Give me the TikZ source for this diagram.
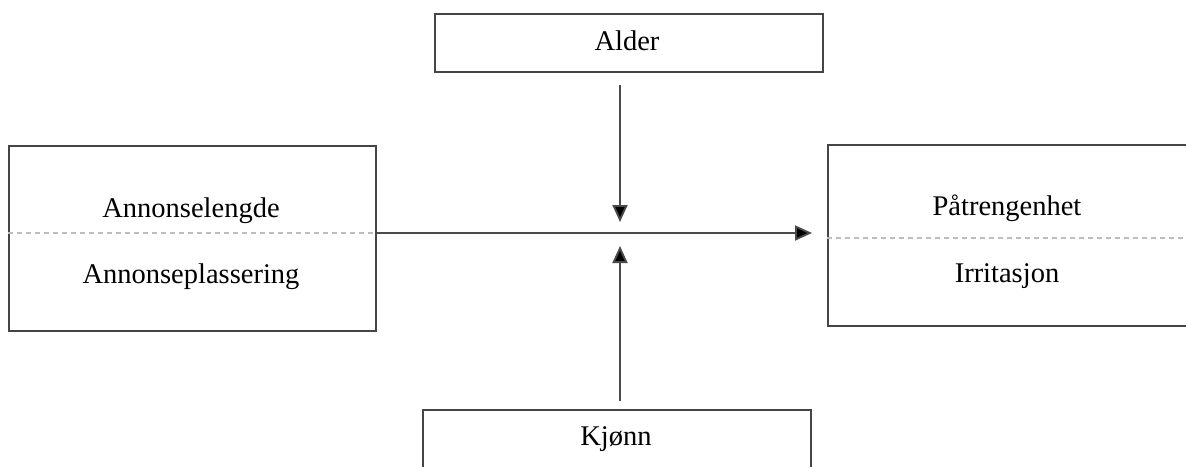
\documentclass[tikz,border=0pt]{standalone}
\usepackage{fontspec}
\setmainfont{Liberation Serif}
\usetikzlibrary{arrows.meta}
\definecolor{boxline}{HTML}{454545}
\definecolor{arrline}{HTML}{4A4A4A}
\definecolor{dashgray}{HTML}{BDBDBD}
\tikzset{
  varbox/.style={draw=boxline, line width=2pt, fill=white, inner sep=0pt},
  lbl/.style={font=\fontsize{28.5}{34}\selectfont, anchor=base, inner sep=0pt},
  sep/.style={draw=dashgray, line width=1.5pt, dash pattern=on 5pt off 4pt},
  conn/.style={draw=arrline, line width=1.9pt, -{Triangle[length=17pt,width=15pt,fill=black]}},
}
\begin{document}
\begin{tikzpicture}[x=1pt,y=-1pt]
\clip (0,0) rectangle (1186,466);
\fill[white] (0,0) rectangle (1186,466);
% boxes
\node[varbox, minimum width=367pt, minimum height=185pt] (lbox) at (192.5,238.5) {};
\node[varbox, minimum width=362pt, minimum height=181pt] (rbox) at (1009,235.5) {};
\node[varbox, minimum width=388pt, minimum height=58pt] (abox) at (629,43) {};
\node[varbox, minimum width=388pt, minimum height=80pt] (kbox) at (617,450) {};
% separators
\coordinate (lsep) at (0,233);
\coordinate (rsep) at (0,238);
\draw[sep] (lbox.west |- lsep) -- (lbox.east |- lsep);
\draw[sep] (rbox.west |- rsep) -- (rbox.east |- rsep);
% labels
\node[lbl] (t1) at (191,217) {Annonselengde};
\node[lbl] (t2) at (191,283) {Annonseplassering};
\node[lbl] (t3) at (1007,215) {Påtrengenhet};
\node[lbl] (t4) at (1007,282) {Irritasjon};
\node[lbl] (t5) at (627,50) {Alder};
\node[lbl] (t6) at (616,445) {Kjønn};
% connectors
\coordinate (mid) at (620,233);
\draw[conn, shorten >=15pt] (lbox.east |- lsep) -- (rbox.west |- lsep);
\draw[conn, shorten <=12pt, shorten >=11pt] (abox.south -| mid) -- (mid);
\draw[conn, shorten <=8pt, shorten >=13pt] (kbox.north -| mid) -- (mid);
\end{tikzpicture}
\end{document}
